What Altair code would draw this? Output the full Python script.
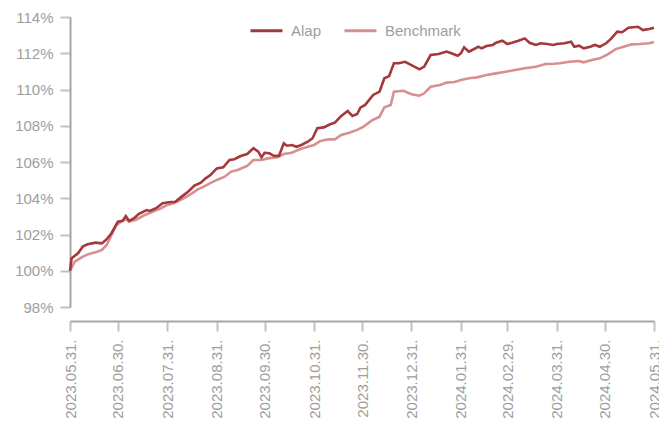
import altair as alt
import pandas as pd

start = "2023-05-31"
end = "2024-05-31"

# days since 2023-05-31 and index level (%)
alap_days = [0, 1, 5, 8, 11, 16, 20, 23, 26, 30,
             33, 35, 37, 40, 43, 48, 50, 54, 58, 62,
             66, 70, 74, 78, 82, 85, 88, 92, 96, 100,
             103, 107, 111, 115, 118, 120, 122, 125, 128, 131,
             134, 136, 139, 142, 145, 149, 152, 155, 159, 163,
             166, 170, 174, 177, 180, 182, 185, 190, 194, 197,
             200, 203, 206, 210, 214, 219, 222, 226, 231, 236,
             239, 243, 245, 247, 250, 253, 256, 258, 261, 265,
             267, 271, 274, 277, 281, 285, 288, 292, 295, 299,
             303, 305, 310, 314, 316, 319, 322, 326, 329, 332,
             336, 339, 343, 346, 350, 356, 359, 363, 366]
alap_vals = [100.0, 100.69, 100.96, 101.33, 101.46, 101.55, 101.51, 101.74, 102.07, 102.71,
             102.76, 103.02, 102.75, 102.89, 103.13, 103.35, 103.30, 103.45, 103.72, 103.78,
             103.81, 104.09, 104.36, 104.70, 104.86, 105.10, 105.28, 105.65, 105.71, 106.11,
             106.15, 106.33, 106.44, 106.76, 106.57, 106.26, 106.51, 106.48, 106.33, 106.35,
             107.03, 106.90, 106.94, 106.84, 106.94, 107.12, 107.31, 107.86, 107.91, 108.08,
             108.17, 108.54, 108.81, 108.54, 108.65, 109.00, 109.15, 109.70, 109.88, 110.62,
             110.74, 111.45, 111.45, 111.53, 111.35, 111.11, 111.26, 111.90, 111.96, 112.09,
             112.00, 111.86, 112.00, 112.33, 112.09, 112.22, 112.36, 112.27, 112.40, 112.46,
             112.58, 112.69, 112.51, 112.58, 112.69, 112.82, 112.58, 112.46, 112.55, 112.51,
             112.46, 112.51, 112.55, 112.64, 112.36, 112.42, 112.27, 112.36, 112.46, 112.36,
             112.55, 112.79, 113.19, 113.16, 113.41, 113.46, 113.28, 113.34, 113.41]

bench_days = [0, 3, 8, 12, 17, 20, 23, 26, 29, 32,
              35, 37, 41, 47, 52, 57, 61, 65, 70, 75,
              80, 83, 87, 92, 97, 101, 105, 111, 115, 120,
              124, 130, 134, 139, 144, 149, 153, 157, 162, 166,
              170, 175, 180, 184, 189, 194, 197, 201, 203, 209,
              214, 219, 222, 226, 232, 236, 241, 245, 250, 255,
              261, 267, 273, 279, 285, 292, 298, 303, 307, 313,
              319, 322, 327, 332, 337, 342, 347, 352, 357, 363,
              366]
bench_vals = [100.0, 100.50, 100.78, 100.93, 101.05, 101.15, 101.42, 101.97, 102.52, 102.71,
              102.84, 102.71, 102.80, 103.08, 103.26, 103.45, 103.63, 103.72, 103.94, 104.18,
              104.49, 104.60, 104.79, 105.01, 105.19, 105.47, 105.56, 105.78, 106.11, 106.11,
              106.20, 106.26, 106.44, 106.51, 106.70, 106.84, 106.94, 107.16, 107.25, 107.25,
              107.49, 107.62, 107.77, 107.95, 108.28, 108.50, 109.02, 109.14, 109.88, 109.93,
              109.74, 109.66, 109.79, 110.15, 110.25, 110.38, 110.41, 110.52, 110.62, 110.67,
              110.80, 110.89, 110.98, 111.08, 111.17, 111.26, 111.41, 111.42, 111.45, 111.53,
              111.57, 111.50, 111.63, 111.72, 111.94, 112.23, 112.36, 112.49, 112.51, 112.55,
              112.62]

month_ends = ["2023-05-31", "2023-06-30", "2023-07-31", "2023-08-31", "2023-09-30",
              "2023-10-31", "2023-11-30", "2023-12-31", "2024-01-31", "2024-02-29",
              "2024-03-31", "2024-04-30", "2024-05-31"]
y_ticks = [98, 100, 102, 104, 106, 108, 110, 112, 114]
series = ["Alap", "Benchmark"]
colors = ["#a4383b", "#d88f8f"]

FONT = "Liberation Sans"
TXT = "#9e9e9e"


def to_dates(days):
    return (pd.Timestamp(start) + pd.to_timedelta(days, unit="D")).strftime("%Y-%m-%d").tolist()


def dt(s):
    t = pd.Timestamp(s)
    return alt.DateTime(year=t.year, month=t.month, date=t.day, utc=True)


df_alap = pd.DataFrame({"date": to_dates(alap_days), "value": alap_vals, "series": "Alap"})
df_bench = pd.DataFrame({"date": to_dates(bench_days), "value": bench_vals, "series": "Benchmark"})

x_enc = alt.X(
    "date:T",
    scale=alt.Scale(type="utc", domain=[dt(start), dt(end)]),
    axis=alt.Axis(
        values=[dt(s) for s in month_ends],
        labelExpr="utcFormat(datum.value, '%Y.%m.%d.')",
        labelAngle=270,
        labelPadding=8,
        offset=14,
        title=None,
    ),
)
y_enc = alt.Y(
    "value:Q",
    scale=alt.Scale(domain=[98, 114], nice=False, zero=False),
    axis=alt.Axis(values=y_ticks, labelExpr="format(datum.value, 'd') + '%'",
                  labelPadding=7, title=None),
)
color_enc = alt.Color(
    "series:N",
    scale=alt.Scale(domain=series, range=colors),
    legend=alt.Legend(
        title=None, orient="none", direction="horizontal",
        legendX=179, legendY=-4, padding=0,
        symbolType="stroke", symbolSize=1024, symbolStrokeWidth=3,
        labelFontSize=15, labelColor=TXT, labelFont=FONT,
        labelOffset=7, columnPadding=16,
    ),
)

bench_line = alt.Chart(df_bench).mark_line(strokeWidth=2.6).encode(x=x_enc, y=y_enc, color=color_enc)
alap_line = alt.Chart(df_alap).mark_line(strokeWidth=2.6).encode(x=x_enc, y=y_enc, color=color_enc)

chart = (
    alt.layer(bench_line, alap_line)
    .properties(
        width=584, height=290,
        autosize=alt.AutoSizeParams(type="none"),
        padding={"left": 62, "top": 9, "right": 5, "bottom": 116},
    )
    .configure_view(stroke=None)
    .configure_axis(
        grid=False,
        domainColor="#a6a6a6", domainWidth=2,
        tickColor="#c2c2c2", tickWidth=2, tickSize=10,
        labelColor=TXT, labelFontSize=15, labelFont=FONT,
    )
)

chart.save("out.html", embed_options={"renderer": "svg", "actions": False})
